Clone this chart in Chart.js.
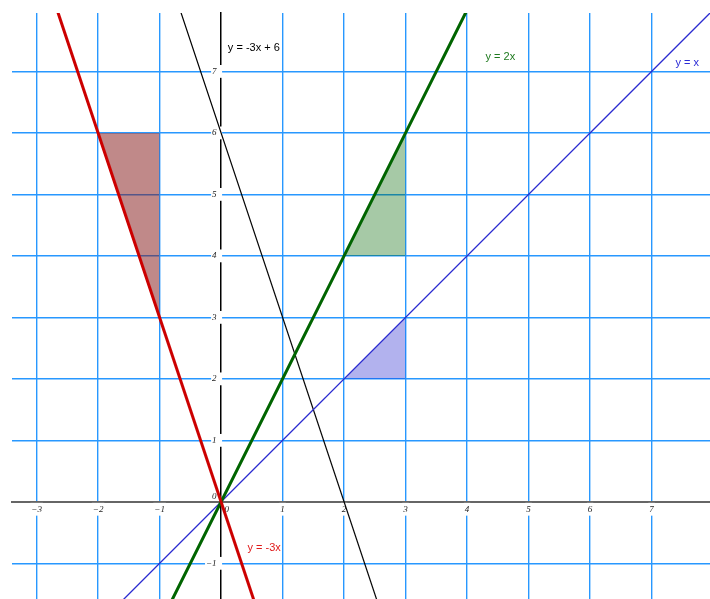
<!DOCTYPE html>
<html>
<head>
<meta charset="utf-8">
<script src="https://cdn.jsdelivr.net/npm/chart.js@4/dist/chart.umd.min.js"></script>
<style>
  html, body { margin: 0; padding: 0; background: #fff; overflow: hidden; }
  #chart { width: 710px; height: 599px; }
</style>
</head>
<body>
<div id="chart"><canvas width="710" height="599"></canvas></div>
<script>
// axis ticks
const X_TICKS = [-3, -2, -1, 0, 1, 2, 3, 4, 5, 6, 7];
const Y_TICKS = [-1, 0, 1, 2, 3, 4, 5, 6, 7];

// the four lines, two points each (clipped by the chart area)
const RED_X = [-3, 1];
const RED_Y = [9, -3];
const GREEN_X = [-1, 4.5];
const GREEN_Y = [-2, 9];
const BLUE_X = [-2, 8.5];
const BLUE_Y = [-2, 8.5];
const BLACK_X = [-1, 3];
const BLACK_Y = [9, -3];

// slope triangles: hypotenuse points + the level they are filled to
const RED_TRI_X = [-2, -1];
const RED_TRI_Y = [6, 3];
const RED_TRI_BASE = 6;
const GREEN_TRI_X = [2, 3];
const GREEN_TRI_Y = [4, 6];
const GREEN_TRI_BASE = 4;
const BLUE_TRI_X = [2, 3];
const BLUE_TRI_Y = [2, 3];
const BLUE_TRI_BASE = 2;

// labels for the lines
const LABELS = ['y = -3x + 6', 'y = 2x', 'y = x', 'y = -3x'];
const LABEL_X = [0.11, 4.3, 7.39, 0.43];
const LABEL_Y = [7.38, 7.23, 7.14, -0.75];

const GRID_BLUE = '#2898ff';
const toPoints = (xs, ys) => xs.map((x, i) => ({x: x, y: ys[i]}));

function lineSet(xs, ys, color, width) {
  return {
    data: toPoints(xs, ys),
    showLine: true,
    borderColor: color,
    borderWidth: width,
    pointRadius: 0,
    fill: false
  };
}

function triSet(xs, ys, base, color) {
  return {
    data: toPoints(xs, ys),
    showLine: true,
    borderWidth: 0,
    borderColor: 'rgba(0,0,0,0)',
    backgroundColor: color,
    pointRadius: 0,
    fill: {value: base}
  };
}

const noPad = s => { s.paddingTop = 0; s.paddingBottom = 0; s.paddingLeft = 0; s.paddingRight = 0; };
const tickFont = {family: '"Liberation Serif", "Times New Roman", serif', style: 'italic', size: 9};
const minus = v => (v < 0 ? '\u2212' + (-v) : String(v));
const hideZero = (c, col) => (c.tick && c.tick.value === 0 ? 'rgba(0,0,0,0)' : col);

const lineLabels = {
  id: 'lineLabels',
  afterDatasetsDraw(chart) {
    const ctx = chart.ctx;
    const colors = ['#000000', '#1f7a1f', '#2b2bd6', '#e01b1b'];
    ctx.save();
    ctx.font = '11px "Liberation Sans", Arial, sans-serif';
    ctx.textAlign = 'left';
    ctx.textBaseline = 'middle';
    LABELS.forEach((t, i) => {
      ctx.fillStyle = colors[i];
      ctx.fillText(t, chart.scales.x.getPixelForValue(LABEL_X[i]), chart.scales.y.getPixelForValue(LABEL_Y[i]));
    });
    ctx.restore();
  }
};

new Chart(document.querySelector('#chart canvas'), {
  type: 'scatter',
  data: {
    datasets: [
      lineSet(RED_X, RED_Y, '#cc0000', 3),
      lineSet(GREEN_X, GREEN_Y, '#006400', 3),
      lineSet(BLUE_X, BLUE_Y, '#2b2bd0', 1.3),
      lineSet(BLACK_X, BLACK_Y, '#000000', 1.2),
      triSet(RED_TRI_X, RED_TRI_Y, RED_TRI_BASE, 'rgba(130,20,20,0.5)'),
      triSet(GREEN_TRI_X, GREEN_TRI_Y, GREEN_TRI_BASE, 'rgba(0,100,0,0.35)'),
      triSet(BLUE_TRI_X, BLUE_TRI_Y, BLUE_TRI_BASE, 'rgba(0,0,200,0.3)')
    ]
  },
  options: {
    responsive: false,
    animation: false,
    layout: {padding: {left: 12, top: 13, right: 0, bottom: 0}, autoPadding: false},
    plugins: {legend: {display: false}, tooltip: {enabled: false}},
    events: [],
    scales: {
      x: {
        type: 'linear',
        min: -3.4,
        max: 7.95,
        position: {y: 0},
        afterBuildTicks: s => { s.ticks = X_TICKS.map(v => ({value: v})); },
        afterFit: noPad,
        grid: {
          color: c => hideZero(c, GRID_BLUE),
          lineWidth: 1.4,
          tickLength: 2,
          tickColor: GRID_BLUE
        },
        border: {color: '#666', width: 2},
        ticks: {
          font: tickFont,
          color: '#222',
          padding: 0,
          maxRotation: 0,
          autoSkip: false,
          showLabelBackdrop: true,
          backdropColor: c => hideZero(c, '#fff'),
          backdropPadding: 1,
          callback: v => (v === 0 ? '     0' : minus(v))
        }
      },
      y: {
        type: 'linear',
        min: -1.58,
        max: 7.95,
        position: {x: 0},
        afterBuildTicks: s => { s.ticks = Y_TICKS.map(v => ({value: v})); },
        afterFit: noPad,
        grid: {
          color: c => hideZero(c, GRID_BLUE),
          lineWidth: 1.4,
          tickLength: 4,
          tickColor: '#555'
        },
        border: {color: '#000', width: 1.5},
        ticks: {
          font: tickFont,
          color: '#222',
          padding: 1,
          autoSkip: false,
          showLabelBackdrop: true,
          backdropColor: c => hideZero(c, '#fff'),
          backdropPadding: 1,
          // y labels sit right-aligned on the axis; trailing spaces push them left of it
          callback: v => (v === 0 ? ['0  ', ''] : minus(v) + '  ')
        }
      }
    }
  },
  plugins: [lineLabels]
});
</script>
</body>
</html>
